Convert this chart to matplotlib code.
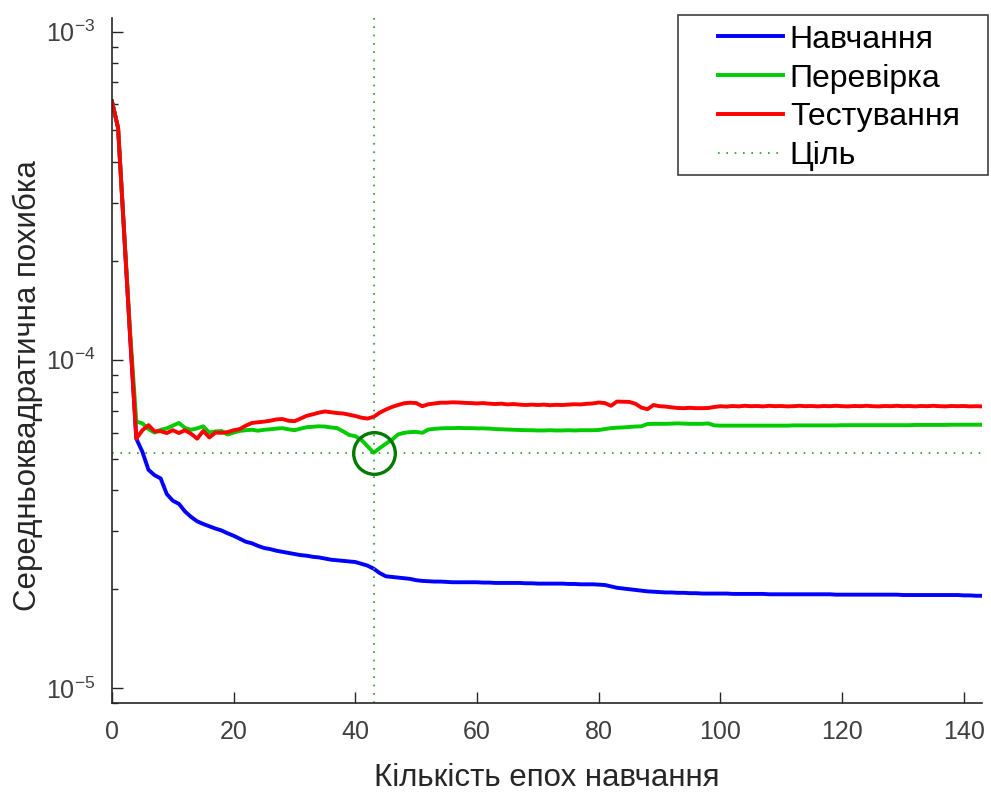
import numpy as np
import matplotlib.pyplot as plt
from matplotlib.legend_handler import HandlerLine2D
from matplotlib.patches import Rectangle

plt.rcParams['font.family'] = ['Liberation Sans', 'DejaVu Sans']
plt.rcParams['mathtext.default'] = 'regular'

# mse values, in units of 1e-5
train = [61.2, 50.9, 24.2, 11.6, 5.75, 5.24, 4.62, 4.45, 4.35, 3.90,
         3.72, 3.64, 3.45, 3.32, 3.22, 3.16, 3.11, 3.06, 3.02, 2.96,
         2.91, 2.85, 2.79, 2.76, 2.71, 2.67, 2.65, 2.62, 2.60, 2.58,
         2.56, 2.54, 2.53, 2.51, 2.50, 2.48, 2.46, 2.45, 2.44, 2.43,
         2.42, 2.39, 2.36, 2.31, 2.24, 2.19, 2.18, 2.17, 2.16, 2.15,
         2.13, 2.12, 2.115, 2.11, 2.11, 2.105, 2.10, 2.10, 2.10, 2.10,
         2.10, 2.095, 2.095, 2.09, 2.09, 2.09, 2.09, 2.09, 2.085, 2.085,
         2.08, 2.08, 2.08, 2.08, 2.08, 2.075, 2.075, 2.07, 2.07, 2.07,
         2.065, 2.06, 2.04, 2.02, 2.01, 2.00, 1.99, 1.98, 1.97, 1.965,
         1.96, 1.955, 1.955, 1.95, 1.95, 1.945, 1.945, 1.94, 1.94, 1.94,
         1.94, 1.94, 1.935, 1.935, 1.935, 1.935, 1.935, 1.935, 1.93, 1.93,
         1.93, 1.93, 1.93, 1.93, 1.93, 1.93, 1.93, 1.93, 1.93, 1.925,
         1.925, 1.925, 1.925, 1.925, 1.925, 1.925, 1.925, 1.925, 1.925, 1.925,
         1.92, 1.92, 1.92, 1.92, 1.92, 1.92, 1.92, 1.92, 1.92, 1.92,
         1.915, 1.915, 1.91, 1.91]

valid = [61.2, 50.9, 24.5, 12.0, 6.48, 6.40, 6.15, 6.00, 6.12, 6.18,
         6.30, 6.42, 6.20, 6.12, 6.18, 6.27, 6.00, 6.05, 6.07, 5.92,
         6.00, 6.07, 6.10, 6.12, 6.08, 6.12, 6.14, 6.17, 6.19, 6.14,
         6.10, 6.17, 6.23, 6.25, 6.27, 6.26, 6.22, 6.19, 6.05, 5.90,
         5.85, 5.70, 5.45, 5.21, 5.38, 5.55, 5.70, 5.92, 5.99, 6.02,
         6.03, 5.99, 6.13, 6.16, 6.18, 6.19, 6.19, 6.20, 6.19, 6.19,
         6.18, 6.18, 6.17, 6.15, 6.14, 6.13, 6.12, 6.11, 6.10, 6.10,
         6.09, 6.09, 6.10, 6.09, 6.09, 6.10, 6.09, 6.10, 6.10, 6.10,
         6.11, 6.15, 6.19, 6.21, 6.22, 6.24, 6.26, 6.27, 6.37, 6.38,
         6.38, 6.38, 6.39, 6.40, 6.39, 6.38, 6.38, 6.38, 6.40, 6.31,
         6.30, 6.30, 6.30, 6.30, 6.30, 6.30, 6.30, 6.30, 6.30, 6.30,
         6.30, 6.30, 6.31, 6.31, 6.31, 6.31, 6.31, 6.31, 6.31, 6.31,
         6.32, 6.32, 6.32, 6.32, 6.32, 6.32, 6.32, 6.32, 6.32, 6.32,
         6.32, 6.32, 6.33, 6.33, 6.33, 6.33, 6.33, 6.33, 6.34, 6.34,
         6.34, 6.34, 6.34, 6.34]

test = [61.2, 50.9, 24.2, 11.6, 5.75, 6.10, 6.32, 6.05, 6.06, 5.98,
        6.10, 5.98, 6.10, 5.95, 5.75, 6.07, 5.80, 6.00, 5.99, 6.02,
        6.10, 6.15, 6.30, 6.42, 6.45, 6.48, 6.52, 6.58, 6.60, 6.52,
        6.50, 6.62, 6.75, 6.82, 6.90, 6.96, 6.92, 6.88, 6.86, 6.80,
        6.74, 6.66, 6.62, 6.70, 6.90, 7.05, 7.18, 7.28, 7.37, 7.40,
        7.38, 7.22, 7.32, 7.36, 7.40, 7.40, 7.42, 7.41, 7.39, 7.38,
        7.36, 7.38, 7.35, 7.33, 7.35, 7.31, 7.33, 7.30, 7.28, 7.30,
        7.28, 7.30, 7.27, 7.29, 7.28, 7.30, 7.32, 7.31, 7.34, 7.36,
        7.41, 7.38, 7.24, 7.46, 7.45, 7.44, 7.35, 7.15, 7.07, 7.28,
        7.22, 7.20, 7.16, 7.13, 7.12, 7.14, 7.12, 7.12, 7.13, 7.18,
        7.22, 7.20, 7.23, 7.21, 7.24, 7.22, 7.23, 7.21, 7.24, 7.22,
        7.23, 7.21, 7.22, 7.24, 7.22, 7.23, 7.21, 7.23, 7.22, 7.24,
        7.22, 7.21, 7.23, 7.22, 7.24, 7.22, 7.21, 7.23, 7.22, 7.24,
        7.22, 7.23, 7.21, 7.23, 7.22, 7.24, 7.22, 7.21, 7.23, 7.22,
        7.23, 7.21, 7.22, 7.21]

best_epoch = 43
labels = ['Навчання', 'Перевірка', 'Тестування', 'Ціль']


class LeadHandler(HandlerLine2D):
    # leaves empty room on the left of the legend line, like matlab does
    def create_artists(self, legend, orig_handle, xdescent, ydescent,
                       width, height, fontsize, trans):
        lead = 0.32 * width
        return super().create_artists(legend, orig_handle, xdescent - lead, ydescent,
                                      width - lead, height, fontsize, trans)


epochs = np.arange(len(train))
train = np.array(train) * 1e-5
valid = np.array(valid) * 1e-5
test = np.array(test) * 1e-5
best_perf = valid[best_epoch]

W, H = 991, 799
fig = plt.figure(figsize=(W / 100, H / 100), dpi=100)
ax = fig.add_axes([0.113, 0.120, 0.878, 0.857])

ax.semilogy(epochs, train, color='#0000ff', lw=2.8, label=labels[0])
ax.semilogy(epochs, valid, color='#00cc00', lw=2.8, label=labels[1])
ax.semilogy(epochs, test, color='#ff0000', lw=2.8, label=labels[2])
ax.axhline(best_perf, color='#2e9a2e', lw=1.2, ls=(0, (1, 4)), label=labels[3])
ax.axvline(best_epoch, color='#2e9a2e', lw=1.2, ls=(0, (1, 4)))
ax.plot([best_epoch], [best_perf], 'o', ms=30, mfc='none', mec='#007a00', mew=2.4)

ax.set_xlim(0, 143)
ax.set_ylim(10**-5.046, 10**-2.96)
ax.set_xticks(range(0, 141, 20))

for s in ['top', 'right']:
    ax.spines[s].set_visible(False)
for s in ['left', 'bottom']:
    ax.spines[s].set_color('#262626')
    ax.spines[s].set_linewidth(1.2)

ax.tick_params(which='major', direction='in', length=8, width=1, colors='#262626',
               labelcolor='#404040', labelsize=18, pad=12)
ax.tick_params(which='minor', direction='in', length=4, width=1, colors='#262626')

ax.set_xlabel('Кількість епох навчання', fontsize=22.5, color='#262626', labelpad=14)
ax.set_ylabel('Середньоквадратична похибка', fontsize=22.5, color='#262626')
ax.yaxis.set_label_coords(-0.079, 0.464)

# legend box drawn by hand, matlab leaves more room than matplotlib would
box = Rectangle((678 / W, 1 - 175 / H), 310 / W, 160 / H, transform=fig.transFigure,
                facecolor='white', edgecolor='#404040', lw=1.2, clip_on=False, zorder=4.5)
ax.add_patch(box)
leg = ax.legend(loc='upper left', bbox_to_anchor=(678 / W, 1 - 15 / H),
                bbox_transform=fig.transFigure, borderaxespad=0, fontsize=23,
                frameon=False, handlelength=3.0, handletextpad=0.2, labelspacing=0.28,
                borderpad=0.3, handler_map={plt.Line2D: LeadHandler()})

fig.savefig('out.png', dpi=100)
